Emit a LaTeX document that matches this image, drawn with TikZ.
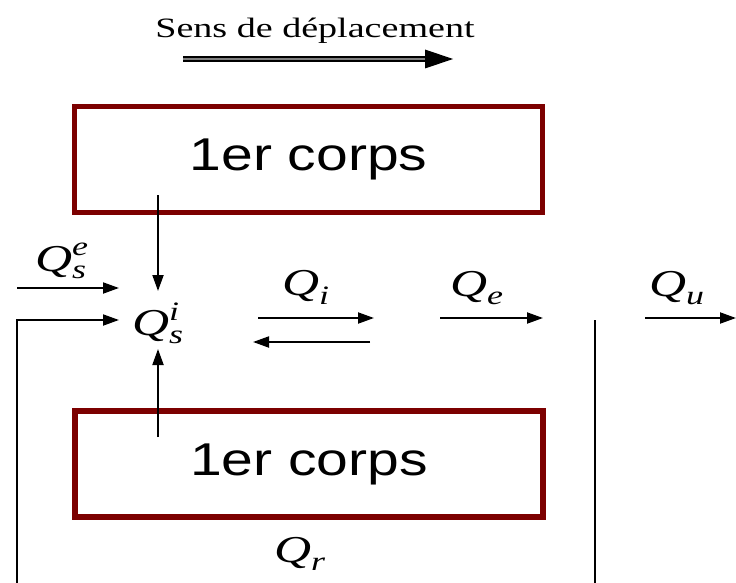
\documentclass[tikz,border=0pt]{standalone}
\usepackage{amsmath}
\usepackage{fontspec}
\setmainfont{Liberation Serif}
\newfontfamily\arialf{Liberation Sans}
\usetikzlibrary{arrows.meta}
\definecolor{boxred}{HTML}{7C0000}
\newcommand{\qq}[1]{\scalebox{1.35}[1]{$\textit{Q}#1$}}
\begin{document}
\begin{tikzpicture}[x=1pt,y=-1pt,
  flow/.style={line width=1.9pt, -{Triangle[length=16pt,width=11pt]}},
  plain/.style={line width=1.9pt},
  corps/.style={draw=boxred, line width=5.5pt, minimum width=468pt, minimum height=106pt, inner sep=0pt, font=\arialf\fontsize{46}{46}\selectfont},
  qlab/.style={font=\fontsize{38}{38}\selectfont, inner sep=0pt}]
\useasboundingbox (0,0) rectangle (736,583);
% title
\node (title) at (315,31) {\fontsize{28}{28}\selectfont\scalebox{1.36}[1]{Sens de déplacement}};
\coordinate (ds) at (183,59);
\coordinate (dm) at (426,59);
\coordinate (de) at (453,59);
\draw[double, double distance=2.6pt, line width=1.8pt, double=gray] (ds) -- (dm);
\fill (de) -- ++(-28,-9.5) -- ++(0,19) -- cycle;
% boxes
\node[corps] (top) at (308.5,159.5) {\scalebox{1.24}[1]{1er corps}};
\node[corps] (bot) at (309,464) {\scalebox{1.24}[1]{1er corps}};
% labels
\node[qlab] (qse) at (62,261) {\qq{_{\textit{s}}^{\textit{e}}}};
\node[qlab] (qsi) at (158,323) {\qq{_{\textit{s}}^{\textit{i}}}};
\node[qlab] (qi) at (306,287) {\qq{_{\textit{i}}}};
\node[qlab] (qe) at (477,288) {\qq{_{\textit{e}}}};
\node[qlab] (qu) at (677,288) {\qq{_{\textit{u}}}};
\node[qlab] (qr) at (300,554) {\qq{_{\textit{r}}}};
% coordinates
\coordinate (a1s) at (17,288);  \coordinate (a1e) at (119,288);
\coordinate (lb) at (17,583);   \coordinate (lc) at (17,320); \coordinate (le) at (119,320);
\coordinate (ts) at (158,195);  \coordinate (te) at (158,291);
\coordinate (bs) at (158,437);  \coordinate (be) at (158,349);
\coordinate (is) at (258,318);  \coordinate (ie) at (374,318);
\coordinate (rs) at (370,342);  \coordinate (re) at (253,342);
\coordinate (es) at (440,318);  \coordinate (ee) at (543,318);
\coordinate (vs) at (595,320);  \coordinate (ve) at (595,583);
\coordinate (us) at (645,318);  \coordinate (ue) at (736,318);
% connectors
\draw[flow] (a1s) -- (a1e);
\draw[flow] (lb) -- (lc) -- (le);
\draw[flow] (ts) -- (te);
\draw[flow] (bs) -- (be);
\draw[flow] (is) -- (ie);
\draw[flow] (rs) -- (re);
\draw[flow] (es) -- (ee);
\draw[plain] (vs) -- (ve);
\draw[flow] (us) -- (ue);
\end{tikzpicture}
\end{document}
